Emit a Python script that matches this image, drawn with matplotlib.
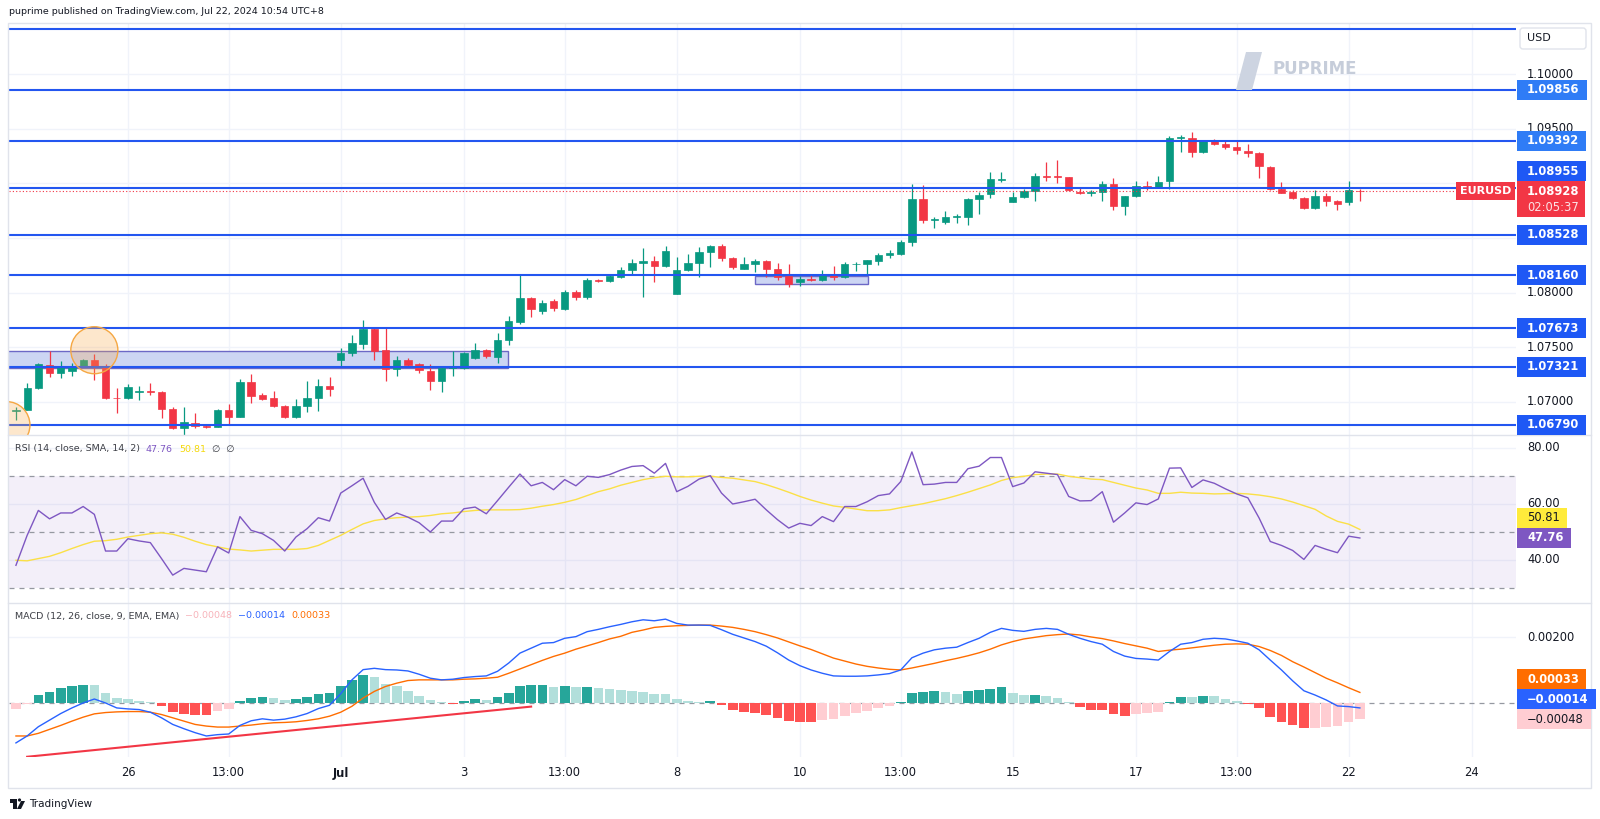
import matplotlib
matplotlib.use("Agg")
import matplotlib.pyplot as plt
import numpy as np
from matplotlib.patches import Rectangle, Ellipse, Polygon, Circle, FancyBboxPatch
from matplotlib.transforms import IdentityTransform

# ---- EURUSD 4h candles (bar index 0..120) ----
opens = [1.06913, 1.06928, 1.07123, 1.07336, 1.07266, 1.07285, 1.07327, 1.07388, 1.07330, 1.07038,
         1.07032, 1.07087, 1.07102, 1.07093, 1.06937, 1.06758, 1.06804, 1.06782, 1.06773, 1.06928,
         1.06865, 1.07184, 1.07059, 1.07035, 1.06962, 1.06859, 1.06962, 1.07038, 1.07145, 1.07382,
         1.07449, 1.07534, 1.07671, 1.07473, 1.07297, 1.07388, 1.07343, 1.07282, 1.07193, 1.07312,
         1.07306, 1.07406, 1.07473, 1.07413, 1.07571, 1.07732, 1.07952, 1.07833, 1.07921, 1.07854,
         1.08006, 1.07961, 1.08113, 1.08104, 1.08143, 1.08210, 1.08271, 1.08286, 1.08244, 1.07985,
         1.08204, 1.08274, 1.08372, 1.08426, 1.08317, 1.08219, 1.08259, 1.08286, 1.08213, 1.08152,
         1.08098, 1.08122, 1.08113, 1.08174, 1.08143, 1.08259, 1.08259, 1.08286, 1.08341, 1.08356,
         1.08462, 1.08858, 1.08661, 1.08651, 1.08691, 1.08691, 1.08858, 1.08904, 1.09035, 1.08834,
         1.08874, 1.08928, 1.09071, 1.09065, 1.09056, 1.08925, 1.08910, 1.08919, 1.08995, 1.08797,
         1.08883, 1.08977, 1.08971, 1.09026, 1.09416, 1.09416, 1.09285, 1.09385, 1.09361, 1.09330,
         1.09300, 1.09279, 1.09154, 1.08950, 1.08919, 1.08868, 1.08776, 1.08880, 1.08843, 1.08828,
         1.08932]
highs = [1.06950, 1.07169, 1.07352, 1.07467, 1.07373, 1.07352, 1.07394, 1.07437, 1.07343, 1.07123,
         1.07163, 1.07145, 1.07175, 1.07102, 1.06950, 1.06950, 1.06901, 1.06788, 1.06937, 1.06980,
         1.07206, 1.07254, 1.07078, 1.07102, 1.06971, 1.07026, 1.07193, 1.07209, 1.07230, 1.07489,
         1.07610, 1.07753, 1.07686, 1.07680, 1.07419, 1.07403, 1.07358, 1.07343, 1.07321, 1.07467,
         1.07458, 1.07540, 1.07480, 1.07632, 1.07784, 1.08159, 1.07961, 1.07930, 1.07945, 1.08028,
         1.08028, 1.08134, 1.08128, 1.08174, 1.08235, 1.08305, 1.08411, 1.08332, 1.08423, 1.08326,
         1.08356, 1.08417, 1.08432, 1.08448, 1.08326, 1.08326, 1.08311, 1.08302, 1.08274, 1.08265,
         1.08149, 1.08159, 1.08204, 1.08241, 1.08280, 1.08280, 1.08296, 1.08362, 1.08393, 1.08480,
         1.08995, 1.08989, 1.08691, 1.08743, 1.08721, 1.08867, 1.08925, 1.09108, 1.09108, 1.08919,
         1.08950, 1.09093, 1.09193, 1.09218, 1.09062, 1.08971, 1.08941, 1.09020, 1.09050, 1.08880,
         1.09020, 1.09026, 1.09072, 1.09437, 1.09446, 1.09474, 1.09397, 1.09407, 1.09385, 1.09385,
         1.09361, 1.09285, 1.09163, 1.09017, 1.08941, 1.08874, 1.08935, 1.08910, 1.08850, 1.09020,
         1.08950]
lows = [1.06834, 1.06925, 1.07117, 1.07230, 1.07215, 1.07236, 1.07321, 1.07200, 1.07023, 1.06895,
        1.07023, 1.07017, 1.07062, 1.06849, 1.06749, 1.06697, 1.06758, 1.06764, 1.06767, 1.06788,
        1.06859, 1.06992, 1.07017, 1.06950, 1.06849, 1.06849, 1.06910, 1.06919, 1.07053, 1.07321,
        1.07419, 1.07480, 1.07388, 1.07190, 1.07236, 1.07321, 1.07266, 1.07108, 1.07093, 1.07236,
        1.07300, 1.07397, 1.07406, 1.07358, 1.07525, 1.07717, 1.07778, 1.07808, 1.07833, 1.07845,
        1.07936, 1.07945, 1.08095, 1.08095, 1.08134, 1.08159, 1.07961, 1.08098, 1.08235, 1.07985,
        1.08198, 1.08143, 1.08235, 1.08286, 1.08220, 1.08219, 1.08189, 1.08143, 1.08113, 1.08052,
        1.08061, 1.08107, 1.08107, 1.08113, 1.08134, 1.08198, 1.08174, 1.08250, 1.08320, 1.08340,
        1.08426, 1.08636, 1.08594, 1.08630, 1.08636, 1.08615, 1.08721, 1.08867, 1.09011, 1.08828,
        1.08868, 1.08837, 1.09020, 1.09001, 1.08934, 1.08904, 1.08889, 1.08837, 1.08758, 1.08715,
        1.08874, 1.08941, 1.08965, 1.08950, 1.09285, 1.09239, 1.09279, 1.09355, 1.09315, 1.09270,
        1.09239, 1.09050, 1.08944, 1.08910, 1.08853, 1.08767, 1.08770, 1.08792, 1.08758, 1.08804,
        1.08843]
closes = [1.06928, 1.07123, 1.07343, 1.07266, 1.07333, 1.07330, 1.07388, 1.07327, 1.07032, 1.07032,
          1.07132, 1.07102, 1.07093, 1.06937, 1.06758, 1.06813, 1.06782, 1.06770, 1.06930, 1.06865,
          1.07184, 1.07056, 1.07026, 1.06962, 1.06859, 1.06962, 1.07038, 1.07145, 1.07114, 1.07449,
          1.07540, 1.07671, 1.07467, 1.07297, 1.07388, 1.07336, 1.07291, 1.07193, 1.07312, 1.07321,
          1.07443, 1.07473, 1.07419, 1.07571, 1.07738, 1.07955, 1.07854, 1.07909, 1.07860, 1.08006,
          1.07961, 1.08113, 1.08104, 1.08152, 1.08210, 1.08271, 1.08286, 1.08244, 1.08381, 1.08204,
          1.08274, 1.08372, 1.08426, 1.08317, 1.08235, 1.08259, 1.08286, 1.08213, 1.08143, 1.08082,
          1.08128, 1.08119, 1.08174, 1.08143, 1.08259, 1.08265, 1.08296, 1.08341, 1.08359, 1.08462,
          1.08858, 1.08661, 1.08676, 1.08691, 1.08697, 1.08858, 1.08898, 1.09041, 1.09041, 1.08874,
          1.08934, 1.09071, 1.09062, 1.09056, 1.08941, 1.08910, 1.08919, 1.08995, 1.08797, 1.08880,
          1.08974, 1.08968, 1.09017, 1.09416, 1.09422, 1.09291, 1.09391, 1.09361, 1.09330, 1.09306,
          1.09282, 1.09157, 1.08950, 1.08913, 1.08868, 1.08776, 1.08883, 1.08843, 1.08813, 1.08935,
          1.08928]

# ---- RSI (14) and its SMA ----
rsi = [38.0, 48.7, 57.6, 54.6, 56.7, 56.7, 59.0, 56.2, 43.1, 43.1,
       47.5, 46.7, 46.1, 40.4, 34.5, 36.9, 36.3, 35.7, 44.6, 42.4,
       55.4, 50.5, 49.3, 46.9, 43.1, 48.1, 51.1, 55.0, 53.8, 63.8,
       66.4, 69.1, 60.5, 54.4, 56.7, 55.2, 53.2, 49.9, 53.8, 53.8,
       58.2, 58.8, 56.4, 61.1, 65.9, 70.6, 66.4, 67.6, 65.0, 68.6,
       66.4, 69.8, 69.4, 70.4, 72.0, 73.3, 73.6, 70.9, 74.4, 64.3,
       66.2, 68.8, 70.0, 63.8, 59.9, 60.7, 61.6, 57.8, 54.3, 51.3,
       53.0, 52.2, 55.4, 53.6, 59.0, 59.0, 60.7, 62.9, 63.5, 67.9,
       78.5, 66.8, 67.0, 67.6, 67.6, 72.5, 73.4, 76.5, 76.5, 66.1,
       67.4, 71.4, 70.9, 70.4, 62.6, 61.0, 61.1, 64.3, 53.4, 56.7,
       60.3, 59.7, 61.7, 72.7, 72.8, 65.8, 68.5, 67.3, 65.3, 63.5,
       62.1, 54.9, 46.5, 45.1, 43.3, 40.1, 45.1, 43.7, 42.5, 48.4,
       47.76]
rsi_sma = [39.8, 39.6, 40.4, 41.2, 42.5, 44.0, 45.4, 46.6, 46.8, 47.3,
           48.1, 48.7, 49.3, 49.6, 49.1, 48.0, 46.6, 45.4, 44.6, 43.8,
           43.5, 43.1, 43.4, 43.7, 43.7, 43.7, 44.0, 45.1, 46.9, 48.7,
           50.8, 52.8, 54.0, 54.6, 55.0, 55.2, 55.4, 55.8, 56.4, 56.7,
           57.2, 57.6, 57.8, 57.8, 57.8, 57.9, 58.4, 59.1, 59.7, 60.5,
           61.5, 62.9, 64.3, 65.3, 66.6, 67.6, 68.6, 69.3, 69.8, 69.6,
           69.6, 69.8, 69.8, 69.4, 69.1, 68.5, 67.9, 66.8, 65.5, 64.1,
           62.6, 61.3, 60.2, 59.2, 58.7, 58.1, 57.5, 57.5, 57.8, 58.6,
           59.3, 60.0, 60.9, 61.8, 62.9, 64.1, 65.4, 66.7, 68.3, 69.3,
           69.8, 70.4, 70.6, 70.6, 69.8, 69.3, 68.8, 68.6, 67.6, 66.6,
           65.6, 64.9, 63.7, 63.7, 64.1, 63.8, 63.7, 63.5, 63.6, 63.7,
           63.5, 63.1, 62.5, 61.7, 60.6, 59.3, 58.0, 55.6, 53.7, 52.7,
           50.81]

# ---- MACD (12, 26, 9) ----
macd = [-0.00120, -0.00099, -0.00071, -0.00051, -0.00031, -0.00014, 0.00001, 0.00013, 0.00001, -0.00014,
        -0.00017, -0.00019, -0.00027, -0.00044, -0.00064, -0.00077, -0.00089, -0.00099, -0.00095, -0.00093,
        -0.00067, -0.00053, -0.00047, -0.00051, -0.00048, -0.00041, -0.00031, -0.00016, -0.00006, 0.00029,
        0.00071, 0.00102, 0.00106, 0.00102, 0.00101, 0.00098, 0.00088, 0.00076, 0.00071, 0.00073,
        0.00078, 0.00081, 0.00083, 0.00097, 0.00122, 0.00152, 0.00167, 0.00182, 0.00184, 0.00197,
        0.00202, 0.00217, 0.00224, 0.00232, 0.00239, 0.00247, 0.00253, 0.00250, 0.00255, 0.00242,
        0.00237, 0.00237, 0.00236, 0.00223, 0.00209, 0.00198, 0.00187, 0.00173, 0.00153, 0.00131,
        0.00114, 0.00101, 0.00091, 0.00083, 0.00082, 0.00082, 0.00083, 0.00086, 0.00090, 0.00101,
        0.00138, 0.00152, 0.00162, 0.00167, 0.00170, 0.00184, 0.00197, 0.00215, 0.00227, 0.00221,
        0.00218, 0.00224, 0.00227, 0.00224, 0.00209, 0.00197, 0.00187, 0.00179, 0.00157, 0.00143,
        0.00136, 0.00134, 0.00131, 0.00157, 0.00179, 0.00184, 0.00194, 0.00197, 0.00195, 0.00189,
        0.00182, 0.00162, 0.00131, 0.00101, 0.00068, 0.00038, 0.00025, 0.00010, -0.00008, -0.00010,
        -0.00014]
signal = [-0.00099, -0.00099, -0.00091, -0.00079, -0.00067, -0.00054, -0.00042, -0.00032, -0.00028, -0.00026,
          -0.00025, -0.00025, -0.00027, -0.00034, -0.00044, -0.00054, -0.00064, -0.00069, -0.00072, -0.00072,
          -0.00069, -0.00066, -0.00062, -0.00059, -0.00058, -0.00056, -0.00052, -0.00047, -0.00039, -0.00027,
          -0.00009, 0.00016, 0.00036, 0.00051, 0.00061, 0.00069, 0.00071, 0.00071, 0.00071, 0.00071,
          0.00073, 0.00074, 0.00076, 0.00079, 0.00091, 0.00104, 0.00117, 0.00130, 0.00142, 0.00152,
          0.00164, 0.00174, 0.00184, 0.00195, 0.00203, 0.00215, 0.00222, 0.00230, 0.00233, 0.00235,
          0.00236, 0.00237, 0.00237, 0.00234, 0.00230, 0.00224, 0.00217, 0.00208, 0.00198, 0.00186,
          0.00174, 0.00163, 0.00150, 0.00137, 0.00128, 0.00119, 0.00112, 0.00107, 0.00103, 0.00101,
          0.00107, 0.00114, 0.00121, 0.00129, 0.00136, 0.00144, 0.00153, 0.00164, 0.00177, 0.00187,
          0.00195, 0.00200, 0.00205, 0.00208, 0.00210, 0.00207, 0.00201, 0.00196, 0.00189, 0.00181,
          0.00174, 0.00167, 0.00157, 0.00161, 0.00164, 0.00168, 0.00172, 0.00176, 0.00179, 0.00180,
          0.00179, 0.00172, 0.00160, 0.00145, 0.00126, 0.00110, 0.00093, 0.00076, 0.00062, 0.00047,
          0.00033]
hist = [-0.00017, -0.00002, 0.00025, 0.00035, 0.00046, 0.00051, 0.00056, 0.00054, 0.00031, 0.00015,
        0.00012, 0.00008, 0.00005, -0.00009, -0.00027, -0.00031, -0.00035, -0.00036, -0.00023, -0.00017,
        0.00006, 0.00017, 0.00020, 0.00017, 0.00011, 0.00013, 0.00018, 0.00028, 0.00030, 0.00052,
        0.00071, 0.00086, 0.00079, 0.00059, 0.00051, 0.00036, 0.00023, 0.00009, 0.00005, -0.00001,
        0.00008, 0.00013, 0.00010, 0.00018, 0.00030, 0.00051, 0.00054, 0.00056, 0.00049, 0.00051,
        0.00048, 0.00049, 0.00046, 0.00042, 0.00040, 0.00037, 0.00034, 0.00029, 0.00027, 0.00012,
        0.00007, 0.00004, 0.00007, -0.00006, -0.00019, -0.00025, -0.00029, -0.00035, -0.00045, -0.00054,
        -0.00057, -0.00058, -0.00050, -0.00048, -0.00038, -0.00030, -0.00023, -0.00015, -0.00008, 0.00003,
        0.00031, 0.00035, 0.00036, 0.00034, 0.00028, 0.00036, 0.00039, 0.00044, 0.00048, 0.00032,
        0.00024, 0.00025, 0.00022, 0.00016, 0.00003, -0.00011, -0.00019, -0.00020, -0.00033, -0.00037,
        -0.00032, -0.00029, -0.00025, 0.00003, 0.00019, 0.00018, 0.00022, 0.00021, 0.00013, 0.00008,
        -0.00003, -0.00015, -0.00040, -0.00056, -0.00067, -0.00076, -0.00074, -0.00072, -0.00069, -0.00056,
        -0.00048]

# ---- drawings ----
levels = [1.10410, 1.09856, 1.09392, 1.08955, 1.08528, 1.08160, 1.07673, 1.07321, 1.06790]
zones = [(-1.0, 43.9, 1.07306, 1.07467), (66.0, 76.1, 1.08076, 1.08152)]
circles = [(7.0, 1.07473), (-0.85, 1.06788)]
trend_x = [1, 46]
trend_y = [-0.00162, -0.00010]

tick_pos = [10, 19, 29, 40, 49, 59, 70, 79, 89, 100, 109, 119, 130]
tick_lbl = ["26", "13:00", "Jul", "3", "13:00", "8", "10", "13:00", "15", "17", "13:00", "22", "24"]
price_ticks = [1.070, 1.075, 1.080, 1.085, 1.090, 1.095, 1.100]
rsi_ticks = [40, 60, 80]
macd_ticks = [0.002]

GREEN, RED = "#089981", "#F23645"
GRID, BORDER, TXT = "#F0F3FA", "#E0E3EB", "#131722"
W, H = 1600, 819
PX = IdentityTransform()

fig = plt.figure(figsize=(16, 8.19), dpi=100)
fig.patch.set_facecolor("white")


def panel(top, bottom, left=9, right=1516):
    ax = fig.add_axes([left / W, 1 - bottom / H, (right - left) / W, (bottom - top) / H])
    ax.set_xlim(-0.62, 133.94)
    for s in ax.spines.values():
        s.set_visible(False)
    ax.set_xticks([])
    ax.set_yticks([])
    for t in tick_pos:
        ax.axvline(t, color=GRID, lw=1, zorder=0)
    return ax


ax_p = panel(23, 435)
ax_r = panel(435, 603)
ax_m = panel(603, 757)
ax_p.set_ylim(1.06697, 1.10468)
ax_r.set_ylim(24.54, 84.54)
ax_m.set_ylim(-0.001627, 0.003039)

x = np.arange(len(closes))
o, h, l, c = map(np.array, (opens, highs, lows, closes))

# price panel
for v in price_ticks:
    ax_p.axhline(v, color=GRID, lw=1, zorder=0)
for x0, x1, y0, y1 in zones:
    ax_p.add_patch(Rectangle((x0, y0), x1 - x0, y1 - y0, fc="#CCD5F3", ec="#6C68C6", lw=1, zorder=1))
col = np.where(c >= o, GREEN, RED)
ax_p.vlines(x, l, h, colors=col, lw=0.9, zorder=3)
ax_p.bar(x, np.maximum(np.abs(c - o), 0.00002), bottom=np.minimum(o, c), width=0.65,
         color=col, edgecolor=col, linewidth=0.5, zorder=4)
for v in levels:
    ax_p.axhline(v, color="#2356F0", lw=1.5, zorder=6)
for cx, cy in circles:
    ax_p.add_patch(Ellipse((cx, cy), 4.2, 0.0043, fc="#F9A94B", alpha=0.28, ec="none", zorder=7))
    ax_p.add_patch(Ellipse((cx, cy), 4.2, 0.0043, fc="none", ec="#F5A742", lw=1, zorder=7))
last = closes[-1]
ax_p.axhline(last, color=RED, lw=0.8, ls=(0, (1, 2)), zorder=5)

# RSI panel
for v in rsi_ticks:
    ax_r.axhline(v, color=GRID, lw=1, zorder=0)
ax_r.axhspan(30, 70, color="#7E57C2", alpha=0.09, lw=0, zorder=0.5)
for v in (70, 50, 30):
    ax_r.axhline(v, color="#9598A1", lw=0.9, ls=(0, (4, 4)), zorder=1)
ax_r.plot(x, rsi_sma, color="#FBE046", lw=1.0, zorder=2)
ax_r.plot(x, rsi, color="#7E57C2", lw=1.0, zorder=3)

# MACD panel
for v in macd_ticks:
    ax_m.axhline(v, color=GRID, lw=1, zorder=0)
ax_m.axhline(0, color="#9598A1", lw=0.9, ls=(0, (4, 4)), zorder=1)
hcol = []
for i, v in enumerate(hist):
    prev = hist[i - 1] if i else v - 1e-9
    if v >= 0:
        hcol.append("#26A69A" if v > prev else "#B2DFDB")
    else:
        hcol.append("#FFCDD2" if v > prev else "#FF5252")
ax_m.bar(x, hist, width=0.86, color=hcol, zorder=2)
ax_m.plot(x, signal, color="#FF6D00", lw=1.0, zorder=3)
ax_m.plot(x, macd, color="#2962FF", lw=1.0, zorder=4)
ax_m.plot(trend_x, trend_y, color=RED, lw=1.5, zorder=5)

# ---- figure-level decorations (pixel coords) ----
renderer = fig.canvas.get_renderer()
boxes = []  # occupied (center, half height) on the price scale column


def ftext(xp, yimg, s, **kw):
    kw.setdefault("va", "center")
    kw.setdefault("ha", "left")
    kw.setdefault("color", TXT)
    return fig.text(xp, H - yimg, s, transform=PX, **kw)


def ydisp(ax, v):
    return ax.transData.transform((0, v))[1]


def tag(yd, s, fc, tc, bold=True, z=4):
    t = fig.text(1527, yd, s, transform=PX, va="center", ha="left", color=tc, fontsize=8.3,
                 fontweight="bold" if bold else "normal", zorder=z + 0.1)
    bb = t.get_window_extent(renderer)
    fig.add_artist(Rectangle((1517, yd - 10), bb.x1 + 7 - 1517, 20, transform=PX, fc=fc, ec="none", zorder=z))
    boxes.append((yd, 10))
    return t


def inline(xp, yimg, parts, size):
    for s, cc in parts:
        t = ftext(xp, yimg, s, color=cc, fontsize=size)
        xp = t.get_window_extent(renderer).x1 + 6


# frame and separators
fig.add_artist(Rectangle((8, H - 788), 1583, 765, transform=PX, fc="none", ec=BORDER, lw=1, zorder=1))
for yy in (435, 603):
    fig.add_artist(plt.Line2D([8, 1591], [H - yy, H - yy], transform=PX, color=BORDER, lw=1, zorder=1))

# price tags
py = ydisp(ax_p, last)
for v in levels:
    if v > 1.103:
        continue
    yd = ydisp(ax_p, v)
    if py - 36 < yd < py + 30:
        yd = py + 20
    tag(yd, f"{v:.5f}", "#2F7CF6" if v > 1.091 else "#1E58F5", "white")
fig.add_artist(Rectangle((1517, py - 26), 68, 36, transform=PX, fc=RED, ec="none", zorder=4))
boxes.append((py - 8, 18))
fig.text(1527, py, f"{last:.5f}", transform=PX, va="center", color="white", fontsize=8.3,
         fontweight="bold", zorder=5)
fig.text(1527, py - 16, "02:05:37", transform=PX, va="center", color="#FBE3E6", fontsize=8.3, zorder=5)
fig.add_artist(Rectangle((1456, py - 9), 59, 18, transform=PX, fc=RED, ec="none", zorder=4))
fig.text(1485.5, py, "EURUSD", transform=PX, va="center", ha="center", color="white", fontsize=8,
         fontweight="bold", zorder=5)

# USD box
fig.add_artist(FancyBboxPatch((1520, H - 49), 66, 21, boxstyle="round,pad=0,rounding_size=3",
                              transform=PX, fc="white", ec=BORDER, lw=1, zorder=6))
ftext(1527, 38, "USD", fontsize=8, zorder=7)

# RSI tags (stacked upward from lowest)
yl = ydisp(ax_r, rsi[-1])
ys = max(ydisp(ax_r, rsi_sma[-1]), yl + 20)
tag(yl, f"{rsi[-1]:.2f}", "#7E57C2", "white")
tag(ys, f"{rsi_sma[-1]:.2f}", "#FFEB3B", TXT, bold=False)

# MACD tags
y1 = ydisp(ax_m, hist[-1])
y2 = max(ydisp(ax_m, macd[-1]), y1 + 20)
y3 = max(ydisp(ax_m, signal[-1]), y2 + 20)
tag(y1, f"{hist[-1]:.5f}".replace("-", "\u2212"), "#FFCDD2", TXT, bold=False)
tag(y2, f"{macd[-1]:.5f}".replace("-", "\u2212"), "#2962FF", "white")
tag(y3, f"{signal[-1]:.5f}", "#FF6D00", "white")

# axis tick labels (hidden where a tag covers them)
for ax, ticks, fmt in ((ax_p, price_ticks, "{:.5f}"), (ax_r, rsi_ticks, "{:.2f}"), (ax_m, macd_ticks, "{:.5f}")):
    for v in ticks:
        yd = ydisp(ax, v)
        if any(abs(yd - yc) < hh for yc, hh in boxes):
            continue
        fig.text(1527, yd, fmt.format(v), transform=PX, va="center", ha="left",
                 color=TXT, fontsize=8.3, zorder=2)
for p, s in zip(tick_pos, tick_lbl):
    xd = ax_m.transData.transform((p, 0))[0]
    ftext(xd, 773, s, ha="center", fontsize=8.3, fontweight="bold" if s == "Jul" else "normal")

# legends
ftext(9, 12, "puprime published on TradingView.com, Jul 22, 2024 10:54 UTC+8", fontsize=6.8)
inline(15, 449, [("RSI (14, close, SMA, 14, 2)", "#3d3f46"), (f"{rsi[-1]:.2f}", "#7E57C2"),
                 (f"{rsi_sma[-1]:.2f}", "#F5D90A"), ("\u2205  \u2205", "#3d3f46")], 6.8)
inline(15, 616, [("MACD (12, 26, close, 9, EMA, EMA)", "#3d3f46"),
                 (f"{hist[-1]:.5f}".replace("-", "\u2212"), "#F7B3BA"),
                 (f"{macd[-1]:.5f}".replace("-", "\u2212"), "#2962FF"),
                 (f"{signal[-1]:.5f}", "#FF6D00")], 6.8)

# watermark
fig.add_artist(Polygon([(1236, H - 90), (1246, H - 52), (1262, H - 52), (1252, H - 90)], closed=True,
                       transform=PX, fc="#CDD4E1", ec="none", zorder=1))
ftext(1273, 69, "PUPRIME", fontsize=12, fontweight="bold", color="#C6CDDA")

# footer logo
fig.add_artist(Rectangle((10, H - 803), 7, 4, transform=PX, fc=TXT, ec="none"))
fig.add_artist(Rectangle((13, H - 809), 4, 8, transform=PX, fc=TXT, ec="none"))
fig.add_artist(Circle((19.5, H - 800), 1.6, transform=PX, fc=TXT, ec="none"))
fig.add_artist(Polygon([(17, H - 809), (21, H - 801), (25, H - 801), (21, H - 809)], closed=True,
                       transform=PX, fc=TXT, ec="none"))
ftext(29, 804, "TradingView", fontsize=7.5)

fig.savefig("out.png", dpi=100)
